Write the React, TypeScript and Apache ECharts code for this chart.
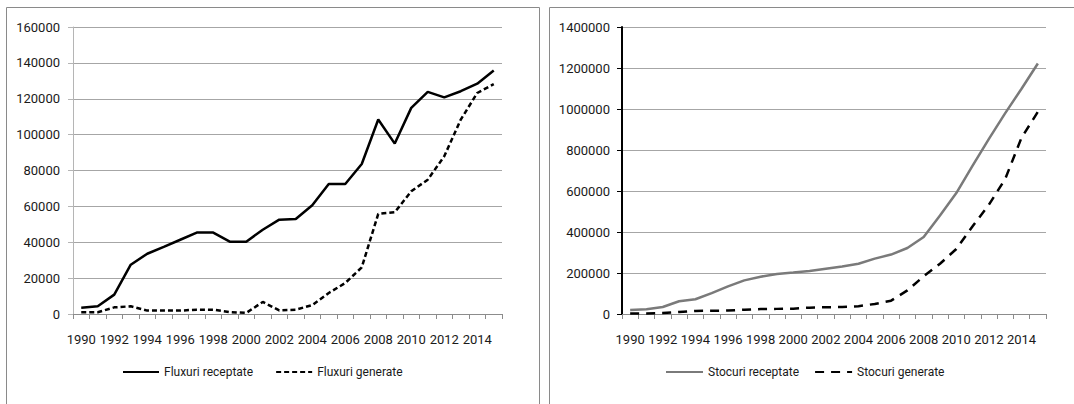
import React, { useEffect, useRef } from "react";
import * as echarts from "echarts";

const years = [
  "1990", "1991", "1992", "1993", "1994", "1995", "1996", "1997", "1998", "1999",
  "2000", "2001", "2002", "2003", "2004", "2005", "2006", "2007", "2008", "2009",
  "2010", "2011", "2012", "2013", "2014", "2015",
];

const fluxuriReceptate = [
  3500, 4300, 10800, 27500, 33600, 37400, 41400, 45400, 45400, 40300,
  40300, 47000, 52600, 53000, 60600, 72500, 72500, 83600, 108400, 95000,
  114900, 123800, 120800, 124200, 128400, 135700,
];

const fluxuriGenerate = [
  1000, 1000, 3700, 4300, 1900, 1900, 1900, 2400, 2400, 1100,
  600, 6700, 2000, 2400, 5000, 11700, 17300, 26000, 55800, 56700,
  68400, 74900, 87900, 108400, 123200, 128200,
];

const stocuriReceptate = [
  20000, 23000, 34000, 62000, 72000, 102000, 135000, 164000, 182000, 195000,
  202000, 210000, 221000, 232000, 245000, 270000, 290000, 322000, 376000, 480000,
  590000, 724000, 854000, 980000, 1099000, 1222000,
];

const stocuriGenerate = [
  3000, 3000, 5000, 10000, 15000, 16000, 17000, 21000, 24000, 25000,
  26000, 31000, 33000, 34000, 38000, 49000, 65000, 115000, 184000, 245000,
  317000, 428000, 533000, 659000, 860000, 986000,
];

const FONT = "Roboto, 'Liberation Sans', sans-serif";
const TXT = "#1a1a1a";
const GRID = "#a6a6a6";

function xAxis(gridIndex: number) {
  return {
    type: "category" as const,
    gridIndex,
    data: years,
    boundaryGap: true,
    axisLine: { lineStyle: { color: "#8c8c8c", width: 1 } },
    axisTick: { show: true, interval: 0, length: 5, lineStyle: { color: "#8c8c8c" } },
    axisLabel: { interval: 1, color: TXT, fontFamily: FONT, fontSize: 13, margin: 19 },
    splitLine: { show: false },
  };
}

function yAxis(gridIndex: number, max: number, interval: number, axisColor: string, axisWidth: number, margin: number) {
  return {
    type: "value" as const,
    gridIndex,
    min: 0,
    max,
    interval,
    axisLine: { show: true, lineStyle: { color: axisColor, width: axisWidth } },
    axisTick: { show: true, length: 5, lineStyle: { color: axisColor } },
    axisLabel: {
      color: TXT,
      fontFamily: FONT,
      fontSize: 13,
      margin,
      formatter: (v: number) => String(v),
    },
    splitLine: { show: true, lineStyle: { color: GRID, width: 1 } },
  };
}

export default function App() {
  const ref = useRef<HTMLDivElement>(null);
  useEffect(() => {
    if (!ref.current) return;
    const chart = echarts.init(ref.current, undefined, { renderer: "svg" });
    chart.setOption({
      animation: false,
      backgroundColor: "#ffffff",
      graphic: [
        {
          type: "rect",
          shape: { x: 6.5, y: 7.5, width: 533, height: 420 },
          style: { fill: "none", stroke: "#8a8a8a", lineWidth: 1 },
          silent: true,
        },
        {
          type: "rect",
          shape: { x: 549.5, y: 7.5, width: 600, height: 420 },
          style: { fill: "none", stroke: "#8a8a8a", lineWidth: 1 },
          silent: true,
        },
      ],
      grid: [
        { left: 73, right: 572, top: 27, bottom: 90, containLabel: false },
        { left: 622, right: 28, top: 27, bottom: 90, containLabel: false },
      ],
      xAxis: [xAxis(0), xAxis(1)],
      yAxis: [
        yAxis(0, 160000, 20000, "#b5b5b5", 1, 13),
        yAxis(1, 1400000, 200000, "#000000", 2, 12),
      ],
      legend: [
        {
          left: 117,
          top: 361,
          itemWidth: 36,
          itemHeight: 14,
          itemGap: 22,
          data: ["Fluxuri receptate", "Fluxuri generate"],
          itemStyle: { opacity: 0 },
          textStyle: { color: TXT, fontFamily: FONT, fontSize: 12 },
        },
        {
          left: 660,
          top: 361,
          itemWidth: 37,
          itemHeight: 14,
          itemGap: 15,
          data: ["Stocuri receptate", "Stocuri generate"],
          itemStyle: { opacity: 0 },
          textStyle: { color: TXT, fontFamily: FONT, fontSize: 12 },
        },
      ],
      series: [
        {
          name: "Fluxuri receptate",
          type: "line",
          xAxisIndex: 0,
          yAxisIndex: 0,
          data: fluxuriReceptate,
          symbol: "none",
          itemStyle: { color: "#000000" },
          lineStyle: { color: "#000000", width: 2.5 },
        },
        {
          name: "Fluxuri generate",
          type: "line",
          xAxisIndex: 0,
          yAxisIndex: 0,
          data: fluxuriGenerate,
          symbol: "none",
          itemStyle: { color: "#000000" },
          lineStyle: { color: "#000000", width: 2.5, type: [5, 3] },
        },
        {
          name: "Stocuri receptate",
          type: "line",
          xAxisIndex: 1,
          yAxisIndex: 1,
          data: stocuriReceptate,
          symbol: "none",
          itemStyle: { color: "#7a7a7a" },
          lineStyle: { color: "#7a7a7a", width: 2.5 },
        },
        {
          name: "Stocuri generate",
          type: "line",
          xAxisIndex: 1,
          yAxisIndex: 1,
          data: stocuriGenerate,
          symbol: "none",
          itemStyle: { color: "#000000" },
          lineStyle: { color: "#000000", width: 2.5, type: [9, 7] },
        },
      ],
    });
    return () => chart.dispose();
  }, []);
  return (
    <div
      ref={ref}
      style={{ position: "fixed", left: 0, top: 0, width: 1074, height: 404, background: "#fff" }}
    />
  );
}
